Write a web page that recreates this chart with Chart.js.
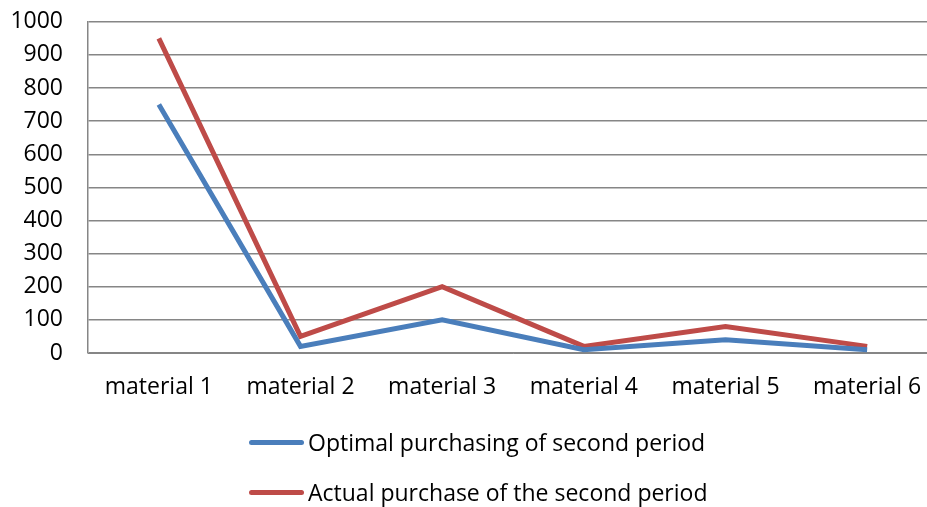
<!DOCTYPE html>
<html>
<head>
<meta charset="utf-8">
<script src="https://cdn.jsdelivr.net/npm/chart.js@4"></script>
<style>
  html, body { margin: 0; padding: 0; background: #fff; overflow: hidden; }
  #wrap { position: relative; width: 927px; height: 507px; overflow: hidden; }
  #chart { position: absolute; left: 0; top: -17px; }
  #legend { position: absolute; left: 249px; top: 424px; font-family: "Open Sans", sans-serif; font-size: 23px; color: #000; }
  #legend .item { display: flex; align-items: center; height: 36px; margin-bottom: 14px; }
  #legend .swatch { width: 55px; height: 5px; border-radius: 3px; margin-right: 4px; }
</style>
</head>
<body>
<div id="wrap">
  <canvas id="chart" width="950" height="524"></canvas>
  <div id="legend"></div>
</div>
<script>
const categories = ['material 1', 'material 2', 'material 3', 'material 4', 'material 5', 'material 6'];
const optimalSecond = [750, 20, 100, 10, 40, 10];
const actualSecond = [950, 50, 200, 20, 80, 20];
const yTicks = [0, 100, 200, 300, 400, 500, 600, 700, 800, 900, 1000];

const fontFamily = '"Open Sans", sans-serif';

const ctx = document.getElementById('chart').getContext('2d');
const chart = new Chart(ctx, {
  type: 'line',
  data: {
    labels: categories,
    datasets: [
      {
        label: 'Optimal purchasing of second period',
        data: optimalSecond,
        borderColor: '#4a7ebb',
        borderWidth: 5,
        pointRadius: 0,
        tension: 0,
        fill: false,
      },
      {
        label: 'Actual purchase of the second period',
        data: actualSecond,
        borderColor: '#be4b48',
        borderWidth: 5,
        pointRadius: 0,
        tension: 0,
        fill: false,
      }
    ]
  },
  options: {
    responsive: false,
    animation: false,
    layout: { padding: { top: 3, right: 12, left: 0, bottom: 0 } },
    plugins: {
      legend: { display: false },
      tooltip: { enabled: false },
    },
    scales: {
      x: {
        offset: true,
        grid: { display: false, drawTicks: false },
        border: { color: '#868686', width: 1 },
        ticks: {
          padding: 21,
          color: '#000',
          font: { family: fontFamily, size: 23 },
          maxRotation: 0,
        },
        afterFit: (scale) => { scale.height = 154; },
      },
      y: {
        min: 0,
        max: 1000,
        afterBuildTicks: (scale) => { scale.ticks = yTicks.map(v => ({ value: v })); },
        grid: { color: '#868686', lineWidth: 1.5, drawTicks: false },
        border: { color: '#868686', width: 1.5 },
        ticks: {
          padding: 25,
          color: '#000',
          font: { family: fontFamily, size: 23 },
          callback: (v) => String(v),
        },
        afterFit: (scale) => { scale.width = 88; },
      }
    }
  }
});

// legend stacked under the plot
const legend = document.getElementById('legend');
chart.data.datasets.forEach(ds => {
  const item = document.createElement('div');
  item.className = 'item';
  const sw = document.createElement('span');
  sw.className = 'swatch';
  sw.style.background = ds.borderColor;
  const txt = document.createElement('span');
  txt.textContent = ds.label;
  item.appendChild(sw);
  item.appendChild(txt);
  legend.appendChild(item);
});
</script>
</body>
</html>
